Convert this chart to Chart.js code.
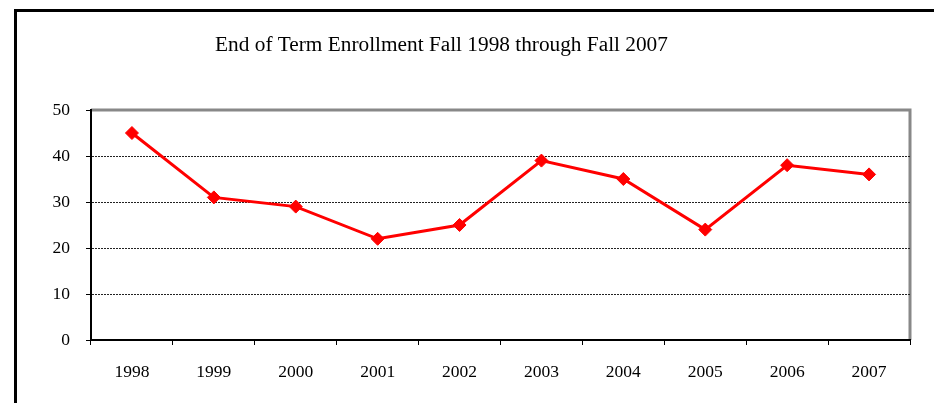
<!DOCTYPE html>
<html>
<head>
<meta charset="utf-8">
<script src="https://cdn.jsdelivr.net/npm/chart.js@4"></script>
<style>
  html, body { margin: 0; padding: 0; background: #fff; }
  #wrap { width: 934px; height: 403px; }
</style>
</head>
<body>
<div id="wrap"><canvas id="enrollChart" width="934" height="403"></canvas></div>
<script>
// ========== DATA ==========
const years = ["1998", "1999", "2000", "2001", "2002", "2003", "2004", "2005", "2006", "2007"];
const enrollment = [45, 31, 29, 22, 25, 39, 35, 24, 38, 36];
const yTicks = [0, 10, 20, 30, 40, 50];
const chartTitle = "End of Term Enrollment Fall 1998 through Fall 2007";

const serif = "'Liberation Serif', 'Times New Roman', serif";

// outer frame, plot box (gray top/right edges) and title
const framePlugin = {
  id: "frame",
  beforeDraw: function (chart) {
    const c = chart.ctx;
    const a = chart.chartArea;
    c.save();
    c.fillStyle = "#fff";
    c.fillRect(0, 0, chart.width, chart.height);
    c.fillStyle = "#000";
    c.fillRect(14, 9, 3, chart.height - 9);
    c.fillRect(14, 9, chart.width - 14, 3);

    c.strokeStyle = "#888";
    c.lineWidth = 3;
    c.beginPath();
    c.moveTo(a.left, a.top);
    c.lineTo(a.right, a.top);
    c.lineTo(a.right, a.bottom);
    c.stroke();

    c.fillStyle = "#000";
    c.font = "21.3px " + serif;
    c.textAlign = "center";
    c.textBaseline = "middle";
    c.fillText(chartTitle, 441.5, 45);
    c.restore();
  }
};

const ctx = document.getElementById("enrollChart");

new Chart(ctx, {
  type: "line",
  data: {
    labels: years,
    datasets: [
      {
        label: "Enrollment",
        data: enrollment,
        borderColor: "#ff0000",
        backgroundColor: "#ff0000",
        borderWidth: 3,
        pointStyle: "rectRot",
        pointRadius: 6.5,
        pointBorderWidth: 1,
        pointBackgroundColor: "#ff0000",
        pointBorderColor: "#ff0000",
        tension: 0
      }
    ]
  },
  options: {
    responsive: false,
    animation: false,
    layout: {
      padding: { left: 0, right: 24, top: 110, bottom: 3 }
    },
    plugins: {
      legend: { display: false },
      tooltip: { enabled: false },
      title: { display: false }
    },
    scales: {
      x: {
        offset: true,
        grid: {
          offset: true,
          drawOnChartArea: false,
          drawTicks: true,
          tickLength: 5,
          tickColor: "#000",
          tickWidth: 1
        },
        border: { display: true, color: "#000", width: 2 },
        ticks: {
          color: "#000",
          padding: 17,
          maxRotation: 0,
          font: { family: serif, size: 17.5 }
        }
      },
      y: {
        min: 0,
        max: 50,
        afterBuildTicks: function (scale) {
          scale.ticks = yTicks.map(function (v) { return { value: v }; });
        },
        afterFit: function (scale) {
          scale.width = 91;
        },
        grid: {
          color: function (c) {
            return (c.tick && (c.tick.value === 0 || c.tick.value === 50)) ? "rgba(0,0,0,0)" : "#222";
          },
          lineWidth: 1,
          tickBorderDash: [],
          tickColor: "#000",
          tickLength: 5,
          drawTicks: true
        },
        border: { display: true, color: "#000", width: 2, dash: [2, 1] },
        ticks: {
          color: "#000",
          padding: 16,
          font: { family: serif, size: 17.5 }
        }
      }
    }
  },
  plugins: [framePlugin]
});
</script>
</body>
</html>
